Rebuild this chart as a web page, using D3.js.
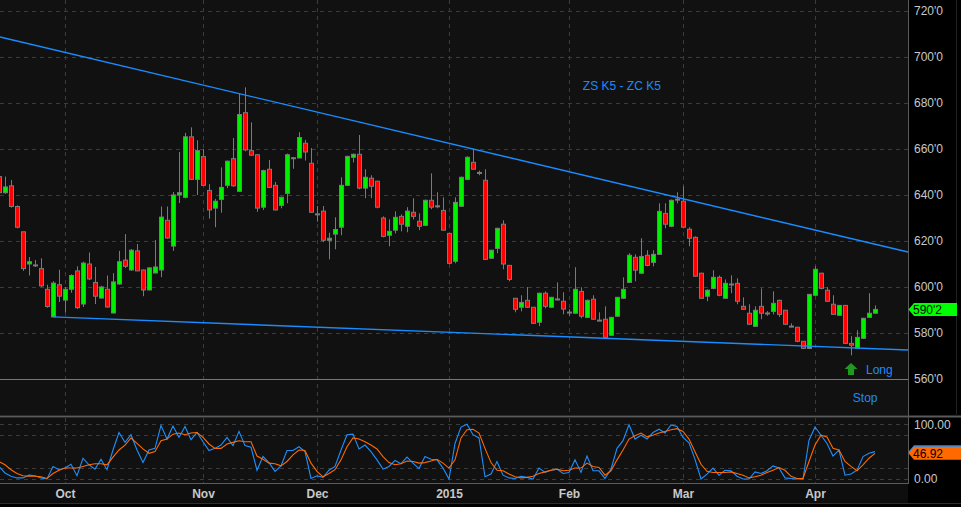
<!DOCTYPE html>
<html>
<head>
<meta charset="utf-8">
<script src="https://cdnjs.cloudflare.com/ajax/libs/d3/7.8.5/d3.min.js"></script>
<style>
  body { margin: 0; background: #000; }
  svg { display: block; font-family: "Liberation Sans", Arial, sans-serif; }
</style>
</head>
<body>
<script>
// daily candles, Sep 16 2014 .. Apr 15 2015 (one entry per trading day)
var opens = [648,641,644,635,624,610,609.6,608,599,587,601,594.3,599,607,592.6,610,602,595.2,599,588.7,
  601.3,611.7,607.4,615.7,607.4,598.7,606.1,607.4,629,617.8,640,639,665.3,646.8,656.7,642,634.3,638.1,644.2,655.8,
  641.6,675.8,659.3,657.5,634.7,651.2,644.2,635.5,640.7,656.2,656.1,662.5,653.8,631.8,633,620.3,623,626,644.2,656.4,
  657.7,643,647.3,646,630,622.5,624.7,630.7,626.4,632.5,628.6,626.8,637.7,635.3,633.3,623.3,611.2,635.1,646.8,654.2,
  649.8,646.4,612.5,616.8,627.3,609.4,595.1,591.2,594.2,591.2,584.7,597.3,591.2,594.8,593.8,589.1,588.6,598.1,586.8,594.7,
  585.6,586,579,587.3,595.1,602,612.9,606,613.8,610.7,614.2,632,626.4,638.2,637.3,625.1,621.6,606,596,599.4,
  604.2,595.1,601.3,601.6,591.6,588.6,582.9,591.6,588.7,589.4,594.2,589.9,583,582.5,576.4,573.3,596.4,606,598.6,592.5,
  587.7,592,575.5,573.3,577.7,586.8,588.6];
var highs = [649,648,646.5,635.5,624,613,611.7,612.5,601,602.5,607.5,600,605.5,609,611,615,608.7,600.5,605,606,
  615.7,623,616.5,618.7,607.5,608.5,620.4,635,635,641.3,658.7,667,669.4,663.8,660,644.7,638.3,652,655,664.8,
  684.2,686.8,671.6,657.8,651,655.2,645.7,639.3,658,656.5,667.3,664,660.4,635.2,635.2,623.6,630.3,647.7,657,658,
  666.1,651.2,648.6,646.2,630.7,629.4,632.9,631.6,634.7,638.6,632,638,649.4,641.2,639,623.5,639,648,656.8,660,
  650.6,651.2,616.2,625.8,629,609.5,595.1,596.4,600,591.3,597.5,598.1,595.7,602,597.7,590.3,608.6,599.9,594.5,596.4,
  589,591.6,587,595.7,604.2,614.7,614.2,621.2,616,616,636.4,636.4,638,641.2,643.8,626,622,606.2,599,607.3,
  605,603.3,605.1,603.8,595.5,592.5,591.6,599.4,589.5,598.1,594.5,590,584.2,582.7,576.5,597,609,606.2,599.9,596.4,
  592.2,592.2,578.6,581.2,586.6,597.3,592];
var lows = [640,640.5,634.5,625.5,607,605,608.7,600,591,587,593.5,589,597.5,590.5,591.3,603,592.6,595,591,588.5,
  601,608.3,607,607,596,598.5,606,604.3,621,615.7,636.5,638.5,646.5,640,644,629.7,626,632.3,643,643.5,
  641.5,659,657,632.7,633.5,643,633.3,634.2,636.4,651.4,656,655,632.3,628.4,619.5,612,616.4,622.5,644,654.2,
  642.5,638.6,638.6,634.2,621.6,617.7,623.3,624.2,623.8,629.4,624.7,626.5,633.8,634.2,624.5,609.9,610.3,635,646.5,651,
  648.6,611.8,612.3,614.7,607.7,602.5,589,589.4,591,584,583,590.7,591,594.2,588.1,587.3,588.5,586.4,586.5,585.8,
  585.3,578,578.8,587,595,601.8,602.5,605.8,609,609,614,625.5,626,636.4,625.5,617.7,604.5,595,593.8,599,
  596,595,597.3,592.5,590,583.5,582.7,586,587.5,588.1,587,583.5,582.5,576,573,573,596,599,593.5,588,
  587.5,575.3,570.3,573,577.5,586.7,588.5];
var closes = [641,643.5,635,626,608,611,609.5,600.5,591.5,601.7,596,599,605,591,610.4,603.5,596,600,591.3,602.2,
  611,609,616,607,598.7,608.3,608.7,630.4,621.3,640,641,665.3,646.8,659.3,644.2,633.5,637.3,643.3,654.7,644,
  675,659.6,657.3,634.3,650.6,643.3,633.5,639,657.5,656,665,658.7,632.5,631.6,620.3,621.2,625,644.2,656.8,657.7,
  643,647.7,643.8,634.7,622,624.2,630.3,627.3,633,630.7,626.4,637.7,634.7,635.1,624.7,610.3,636.8,647.7,656.4,651.2,
  649.6,612,616,625.5,610,603.3,590.3,593.3,591.2,584.2,597.3,591.6,595.5,594.6,590.4,588.9,599,587.3,594.2,586,
  585.4,578.1,586.8,595.5,599,613.8,607.3,613.3,609.4,614.2,632.9,627.3,637.7,638,626,621.2,604.7,595.1,598.6,604.2,
  596.4,601.6,601.1,593.8,590.3,583.8,589.9,588.6,588.5,592.9,588.1,583.8,582.8,576.4,573.3,596.8,607.7,599.4,593.8,588.1,
  592,575.5,574.7,578.1,586.4,588.6,590.25];

// slow stochastic: %K (blue) and %D (orange)
var stochK = [23,11,5,2,2,7,6,2,0,23,17,20,27,6,38,26,18,36,17,53,
  85,67,81,53,30,53,56,98,73,97,76,96,72,85,68,52,56,62,76,61,
  87,61,58,16,41,30,14,24,52,52,59,50,1,6,3,16,23,53,81,82,
  55,62,50,35,18,23,34,28,40,29,19,41,36,35,20,0,65,95,100,81,
  75,4,9,32,7,2,1,5,3,0,20,12,16,18,10,12,35,12,42,15,
  15,1,18,56,70,99,73,80,73,85,91,84,99,96,76,66,36,0,9,20,
  7,16,15,5,0,0,13,10,15,24,20,2,1,0,0,71,95,80,65,42,
  53,7,9,16,41,47,50];
var stochD = [32,26,17,10,6,5,5,4,1,10,16,20,20,20,23,26,28,28,26,40,
  53,62,75,65,55,47,50,70,73,82,84,81,84,85,76,64,56,56,64,67,
  70,68,68,42,36,29,28,24,32,44,53,52,29,14,4,10,17,35,59,75,
  73,68,62,55,41,30,26,28,33,32,29,30,33,36,29,20,35,75,90,91,
  84,56,30,16,15,9,4,2,3,5,10,13,16,18,15,16,20,20,29,23,
  21,7,15,35,53,73,79,84,77,80,84,87,90,92,87,73,50,27,14,12,
  12,12,13,10,7,2,4,7,12,16,21,16,5,1,1,32,62,80,77,56,
  53,32,23,15,26,38,46.92];

// month labels: [label, index of first trading day]
var monthLabels = ["Oct", "Nov", "Dec", "2015", "Feb", "Mar", "Apr"];
var monthIndex = [11, 34, 53, 75, 95, 114, 136];

var priceTicks = [560, 580, 600, 620, 640, 660, 680, 700, 720];
var stochTicks = [0, 100];
var stochGrid = [0, 20, 80, 100];

// drawn trend lines [index, price] and the stop level
var upperTrend = [[0.17, 708.7], [151.5, 615.2]];
var lowerTrend = [[9, 587], [151.5, 572.6]];
var stopLevel = 560;

var W = 961, H = 507;
var plotRight = 908;
var mainTop = 0, mainBottom = 415;
var stTop = 418, stBottom = 483;

var svg = d3.select("body").append("svg")
    .attr("width", W)
    .attr("height", H)
    .style("background", "#000");

var x = d3.scaleLinear().domain([0, 151.5]).range([-1, plotRight]);
var y = d3.scaleLinear().domain([560, 720]).range([379, 11]);
var ys = d3.scaleLinear().domain([0, 100]).range([479, 424.3]);

var fmtPrice = function(d) {
  var whole = Math.floor(d);
  return whole + "'" + Math.round((d - whole) * 8);
};

// panel backgrounds
svg.append("rect").attr("x", 0).attr("y", mainTop).attr("width", plotRight).attr("height", mainBottom - mainTop).attr("fill", "#111");
svg.append("rect").attr("x", 0).attr("y", stTop).attr("width", plotRight).attr("height", stBottom - stTop).attr("fill", "#111");
svg.append("rect").attr("x", 0).attr("y", stBottom + 1).attr("width", plotRight).attr("height", 19).attr("fill", "#0e0e0e");

// grid
var grid = svg.append("g").attr("stroke", "#3c3c3c").attr("stroke-dasharray", "4,4").attr("stroke-width", 1);
grid.selectAll(".hg").data(priceTicks).enter().append("line")
    .attr("x1", 0).attr("x2", plotRight)
    .attr("y1", function(d) { return Math.round(y(d)) + 0.5; })
    .attr("y2", function(d) { return Math.round(y(d)) + 0.5; });
grid.selectAll(".vg").data(monthIndex).enter().append("line")
    .attr("x1", function(d) { return Math.round(x(d)) + 0.5; })
    .attr("x2", function(d) { return Math.round(x(d)) + 0.5; })
    .attr("y1", mainTop).attr("y2", mainBottom);
grid.selectAll(".sg").data(stochGrid).enter().append("line")
    .attr("x1", 0).attr("x2", plotRight)
    .attr("y1", function(d) { return Math.round(ys(d)) + 0.5; })
    .attr("y2", function(d) { return Math.round(ys(d)) + 0.5; });
grid.selectAll(".svg").data(monthIndex).enter().append("line")
    .attr("x1", function(d) { return Math.round(x(d)) + 0.5; })
    .attr("x2", function(d) { return Math.round(x(d)) + 0.5; })
    .attr("y1", stTop).attr("y2", stBottom);

// candles
var idx = d3.range(closes.length);
var candles = svg.append("g");
candles.selectAll("line.wick").data(idx).enter().append("line")
    .attr("class", "wick")
    .attr("x1", function(i) { return Math.round(x(i)) + 0.5; })
    .attr("x2", function(i) { return Math.round(x(i)) + 0.5; })
    .attr("y1", function(i) { return y(highs[i]); })
    .attr("y2", function(i) { return y(lows[i]); })
    .attr("stroke", "#7a7a7a").attr("stroke-width", 1);
candles.selectAll("rect.body").data(idx).enter().append("rect")
    .attr("class", "body")
    .attr("x", function(i) { return Math.round(x(i)) - 1.5; })
    .attr("width", 4)
    .attr("y", function(i) { return y(Math.max(opens[i], closes[i])); })
    .attr("height", function(i) { return Math.max(1, Math.abs(y(opens[i]) - y(closes[i]))); })
    .attr("fill", function(i) { return closes[i] >= opens[i] ? "#00f000" : "#ff0000"; })
    .attr("stroke", "#7a7a7a").attr("stroke-width", 1);

// trend lines and stop
var tl = d3.line().x(function(d) { return x(d[0]); }).y(function(d) { return y(d[1]); });
svg.append("path").attr("d", tl(upperTrend)).attr("fill", "none").attr("stroke", "#1a8cff").attr("stroke-width", 1.4);
svg.append("path").attr("d", tl(lowerTrend)).attr("fill", "none").attr("stroke", "#1a8cff").attr("stroke-width", 1.4);
svg.append("line").attr("x1", 0).attr("x2", plotRight)
    .attr("y1", Math.round(y(stopLevel)) + 0.5).attr("y2", Math.round(y(stopLevel)) + 0.5)
    .attr("stroke", "#1a8cff").attr("stroke-width", 1);

// annotations
svg.append("text").attr("x", x(97.3)).attr("y", y(685.5))
    .attr("fill", "#1a8cff").attr("font-size", 12).text("ZS K5 - ZC K5");
var ax = x(142), ay = y(564.3);
svg.append("path")
    .attr("d", "M" + ax + "," + (ay - 6) + " L" + (ax + 6.5) + "," + ay + " L" + (ax + 3) + "," + ay +
      " L" + (ax + 3) + "," + (ay + 6) + " L" + (ax - 3) + "," + (ay + 6) + " L" + (ax - 3) + "," + ay +
      " L" + (ax - 6.5) + "," + ay + " Z")
    .attr("fill", "#1e9a1e");
svg.append("text").attr("x", x(144.5)).attr("y", ay + 4.5)
    .attr("fill", "#1a8cff").attr("font-size", 12).text("Long");
svg.append("text").attr("x", x(142.3)).attr("y", y(stopLevel) + 23)
    .attr("fill", "#1a8cff").attr("font-size", 12).text("Stop");

// stochastic lines
var sl = d3.line().x(function(d, i) { return x(i); }).y(function(d) { return ys(d); });
svg.append("path").attr("d", sl(stochK)).attr("fill", "none").attr("stroke", "#1e90ff").attr("stroke-width", 1.1);
svg.append("path").attr("d", sl(stochD)).attr("fill", "none").attr("stroke", "#ff6a00").attr("stroke-width", 1.1);

// frame lines
svg.append("line").attr("x1", 0).attr("x2", W).attr("y1", 416.5).attr("y2", 416.5).attr("stroke", "#5a5a5a").attr("stroke-width", 2);
svg.append("line").attr("x1", plotRight + 0.5).attr("x2", plotRight + 0.5).attr("y1", 0).attr("y2", stBottom + 1).attr("stroke", "#5a5a5a");
svg.append("line").attr("x1", 0).attr("x2", plotRight + 1).attr("y1", stBottom + 0.5).attr("y2", stBottom + 0.5).attr("stroke", "#5a5a5a");
svg.append("line").attr("x1", 0).attr("x2", W).attr("y1", 503.5).attr("y2", 503.5).attr("stroke", "#2e2e2e");
svg.append("line").attr("x1", 956.5).attr("x2", 956.5).attr("y1", 0).attr("y2", 416).attr("stroke", "#222");

// price axis
var yAxis = svg.append("g")
    .attr("transform", "translate(" + (plotRight + 3) + ",0)")
    .call(d3.axisRight(y).tickValues(priceTicks).tickSize(0).tickFormat(fmtPrice));
yAxis.select(".domain").remove();
yAxis.selectAll("text").attr("fill", "#c8c8c8").attr("font-size", 12).attr("font-family", "Liberation Sans, Arial, sans-serif");

// stochastic axis
var sAxis = svg.append("g")
    .attr("transform", "translate(" + (plotRight + 3) + ",0)")
    .call(d3.axisRight(ys).tickValues(stochTicks).tickSize(0).tickFormat(d3.format(".2f")));
sAxis.select(".domain").remove();
sAxis.selectAll("text").attr("fill", "#c8c8c8").attr("font-size", 12).attr("font-family", "Liberation Sans, Arial, sans-serif");

// time axis
var xAxis = svg.append("g")
    .attr("transform", "translate(0," + (stBottom + 1) + ")")
    .call(d3.axisBottom(x).tickValues(monthIndex).tickSize(0)
      .tickFormat(function(d) { return monthLabels[monthIndex.indexOf(d)]; }));
xAxis.select(".domain").remove();
xAxis.selectAll("text").attr("fill", "#c8c8c8").attr("font-size", 12).attr("font-weight", "bold")
    .attr("font-family", "Liberation Sans, Arial, sans-serif").attr("dy", "0.95em");

// last-value tags
function tag(yc, x1, fill) {
  var h = 6.5;
  return svg.append("path")
    .attr("d", "M" + (plotRight + 0.5) + "," + yc + " L" + (plotRight + 6) + "," + (yc - h) +
      " L" + x1 + "," + (yc - h) + " L" + x1 + "," + (yc + h) + " L" + (plotRight + 6) + "," + (yc + h) + " Z")
    .attr("fill", fill);
}
var lastClose = closes[closes.length - 1];
tag(y(lastClose), 957, "#00ff00");
svg.append("text").attr("x", plotRight + 5).attr("y", y(lastClose) + 4.5)
    .attr("fill", "#000").attr("font-size", 12).text(fmtPrice(lastClose));

var lastK = stochK[stochK.length - 1], lastD = stochD[stochD.length - 1];
tag(ys(lastK), W, "#1e90ff");
tag(ys(lastD), W, "#ff6a00");
svg.append("text").attr("x", plotRight + 5).attr("y", ys(lastD) + 4.5)
    .attr("fill", "#000").attr("font-size", 12).text(d3.format(".2f")(lastD));
</script>
</body>
</html>
